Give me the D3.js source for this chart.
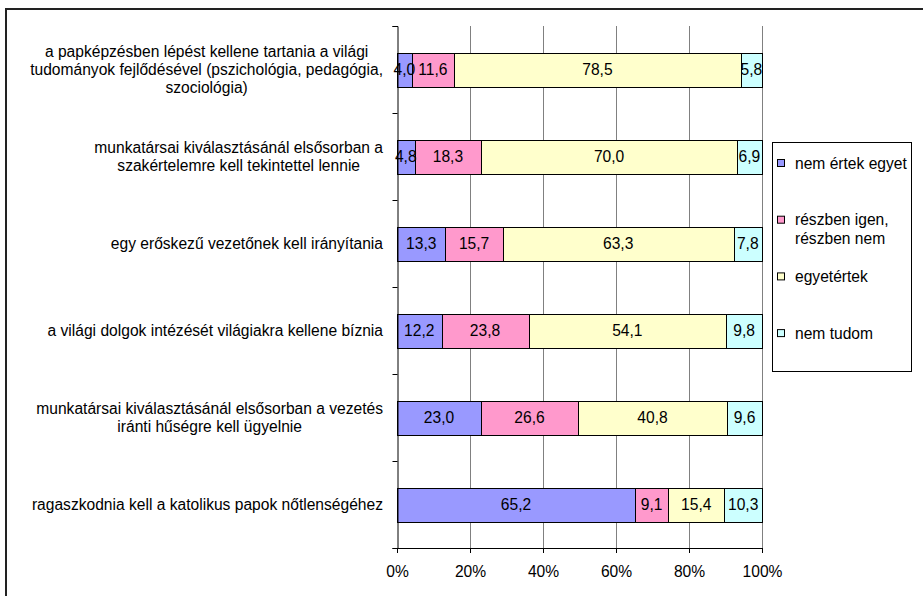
<!DOCTYPE html>
<html>
<head>
<meta charset="utf-8">
<script src="https://cdn.jsdelivr.net/npm/d3@7"></script>
<style>
  body { margin: 0; background: #fff; }
  svg { display: block; font-family: "Liberation Sans", Arial, sans-serif; }
</style>
</head>
<body>
<script>
// categories top to bottom, "|" marks a line break
const categories = [
  "a papképzésben lépést kellene tartania a világi|tudományok fejlődésével (pszichológia, pedagógia,|szociológia)",
  "munkatársai kiválasztásánál elsősorban a|szakértelemre kell tekintettel lennie",
  "egy erőskezű vezetőnek kell irányítania",
  "a világi dolgok intézését világiakra kellene bíznia",
  "munkatársai kiválasztásánál elsősorban a vezetés|iránti hűségre kell ügyelnie",
  "ragaszkodnia kell a katolikus papok nőtlenségéhez"
]
const seriesNames = ["nem értek egyet", "részben igen,|részben nem", "egyetértek", "nem tudom"]
const nemErtek   = [4.0, 4.8, 13.3, 12.2, 23.0, 65.2]
const reszben    = [11.6, 18.3, 15.7, 23.8, 26.6, 9.1]
const egyetertek = [78.5, 70.0, 63.3, 54.1, 40.8, 15.4]
const nemTudom   = [5.8, 6.9, 7.8, 9.8, 9.6, 10.3]
const xTicks = [0, 0.2, 0.4, 0.6, 0.8, 1]

const colors = ["#9999ff", "#ff99cc", "#ffffcc", "#ccffff"]
const width = 923, height = 596
const plotL = 397, plotR = 762, plotT = 26, plotB = 548
const fs = "15.6px"
const fmt = v => d3.format(".1f")(v).replace(".", ",")

const series = [nemErtek, reszben, egyetertek, nemTudom]
const rows = categories.map((c, i) => {
  const r = { cat: c }
  series.forEach((s, k) => r["s" + k] = s[i])
  return r
})
const keys = series.map((s, k) => "s" + k)
const stacked = d3.stack().keys(keys).offset(d3.stackOffsetExpand)(rows)

const svg = d3.select("body").append("svg")
  .attr("width", width)
  .attr("height", height)

// outer chart border (right and bottom fall outside the picture)
svg.append("rect")
  .attr("x", 6).attr("y", 9)
  .attr("width", 940).attr("height", 620)
  .attr("fill", "none").attr("stroke", "#222").attr("stroke-width", 2)

const x = d3.scaleLinear().domain([0, 1]).range([plotL, plotR])
const y = d3.scaleBand().domain(categories).range([plotT, plotB])
  .paddingInner(0.61).paddingOuter(0.305)
const yTicks = d3.scaleLinear().domain([0, categories.length]).range([plotT, plotB])

// vertical gridlines
svg.append("g")
  .selectAll("line")
  .data(xTicks.slice(1))
  .join("line")
  .attr("x1", d => Math.round(x(d)) + 0.5).attr("x2", d => Math.round(x(d)) + 0.5)
  .attr("y1", plotT).attr("y2", plotB)
  .attr("stroke", "#808080")

// bars
svg.append("g")
  .selectAll("g")
  .data(stacked)
  .join("g")
  .attr("fill", (d, i) => colors[i])
  .selectAll("rect")
  .data(d => d)
  .join("rect")
  .attr("x", d => Math.round(x(d[0])) + 0.5)
  .attr("y", d => Math.round(y(d.data.cat)) + 0.5)
  .attr("width", d => Math.round(x(d[1])) - Math.round(x(d[0])))
  .attr("height", Math.round(y.bandwidth()))
  .attr("stroke", "#000")

// value labels
svg.append("g")
  .style("font-size", fs)
  .selectAll("g")
  .data(stacked)
  .join("g")
  .selectAll("text")
  .data((d, k) => d.map((p, i) => ({ p, v: series[k][i] })))
  .join("text")
  .attr("x", d => (x(d.p[0]) + x(d.p[1])) / 2)
  .attr("y", d => y(d.p.data.cat) + y.bandwidth() / 2 + 5.5)
  .attr("text-anchor", "middle")
  .attr("fill", "#000")
  .text(d => fmt(d.v))

// axes
svg.append("g")
  .attr("transform", `translate(${plotL + 0.5},0)`)
  .call(d3.axisLeft(yTicks).ticks(categories.length).tickSize(5).tickFormat(""))
  .call(g => g.select(".domain").attr("stroke", "#000"))

svg.append("g")
  .attr("transform", `translate(0,${plotB})`)
  .call(d3.axisBottom(x).tickValues(xTicks).tickSize(5).tickFormat(d3.format(".0%")))
  .call(g => g.select(".domain").attr("d", `M${plotL},0.5H${plotR + 1}`).attr("stroke", "#000"))
  .call(g => g.selectAll(".tick text").attr("dy", 0).attr("y", 29)
    .style("font-size", fs).style("font-family", "Liberation Sans, Arial, sans-serif").attr("fill", "#000"))

// category labels, centered block with right edge at x=383
const lineH = 18
svg.append("g")
  .style("font-size", fs)
  .selectAll("text")
  .data(categories)
  .join("text")
  .attr("text-anchor", "middle")
  .attr("fill", "#000")
  .each(function(c) {
    const lines = c.split("|")
    const t = d3.select(this)
    const cy = y(c) + y.bandwidth() / 2
    lines.forEach((l, i) => {
      t.append("tspan")
        .attr("y", cy + (i - (lines.length - 1) / 2) * lineH + 5.5)
        .text(l)
    })
    let w = 0
    t.selectAll("tspan").each(function() { w = Math.max(w, this.getComputedTextLength()) })
    t.selectAll("tspan").attr("x", 383 - w / 2)
  })

// legend
const legend = svg.append("g")
legend.append("rect")
  .attr("x", 772.5).attr("y", 142.5)
  .attr("width", 139).attr("height", 229)
  .attr("fill", "#fff").attr("stroke", "#000")

const item = legend.selectAll("g.item")
  .data(seriesNames)
  .join("g")
  .attr("class", "item")
  .attr("transform", (d, i) => `translate(777,${163 + i * 56.7})`)

item.append("rect")
  .attr("x", 0.5).attr("y", -3.5)
  .attr("width", 7).attr("height", 7)
  .attr("fill", (d, i) => colors[i])
  .attr("stroke", "#000")

item.append("text")
  .style("font-size", fs)
  .attr("fill", "#000")
  .each(function(d) {
    d.split("|").forEach((l, i) => {
      d3.select(this).append("tspan")
        .attr("x", 18).attr("y", 5.5 + i * 19)
        .text(l)
    })
  })
</script>
</body>
</html>
